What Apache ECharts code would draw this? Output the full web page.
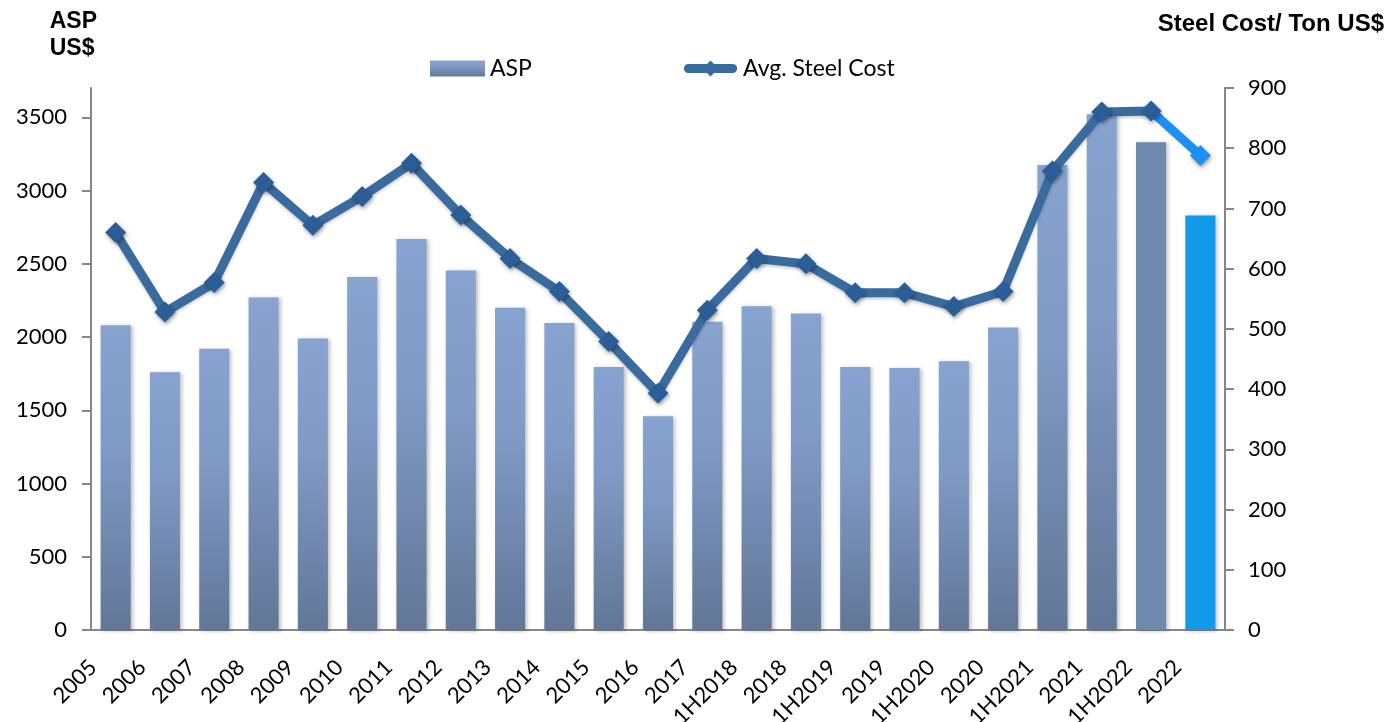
<!DOCTYPE html>
<html>
<head>
<meta charset="utf-8">
<script src="https://cdn.jsdelivr.net/npm/echarts@6/dist/echarts.min.js"></script>
<style>
  html, body { margin: 0; padding: 0; background: #fff; }
  #chart { width: 1386px; height: 722px; }
</style>
</head>
<body>
<div id="chart"></div>
<script>
let categories = ['2005', '2006', '2007', '2008', '2009', '2010', '2011', '2012', '2013', '2014', '2015', '2016',
  '2017', '1H2018', '2018', '1H2019', '2019', '1H2020', '2020', '1H2021', '2021', '1H2022', '2022']
let aspValues = [2080, 1760, 1920, 2270, 1990, 2410, 2670, 2455, 2200, 2095, 1795, 1460,
  2105, 2210, 2160, 1795, 1788, 1835, 2065, 3175, 3520, 3330, 2830]
let steelValues = [660, 528, 577, 743, 672, 720, 775, 689, 617, 562, 479, 393,
  531, 617, 608, 560, 560, 537, 562, 762, 860, 862, 788]
let leftTicks = [0, 500, 1000, 1500, 2000, 2500, 3000, 3500]
let rightTicks = [0, 100, 200, 300, 400, 500, 600, 700, 800, 900]

let font = 'Lato'
let axisGray = '#868686'
let lineColor = '#3a6b9f'
let markerColor = '#2b5e97'
let lastColor = '#1e90f5'
let last = categories.length - 1

let barGradient = new echarts.graphic.LinearGradient(0, 0, 0, 1, [
  { offset: 0, color: '#87a3cf' },
  { offset: 0.4, color: '#7f9ac5' },
  { offset: 1, color: '#627797' }
])

// 最后两根柱子颜色不同
let barData = aspValues.map(function (v, i) {
  if (i === last - 1) {
    return { value: v, itemStyle: { color: '#6f88ae' } }
  }
  if (i === last) {
    return { value: v, itemStyle: { color: '#129ae8' } }
  }
  return v
})

// 深色折线到 1H2022，最后一段用亮蓝色
let mainLine = steelValues.map(function (v, i) { return i < last ? v : '-' })
let lastLine = steelValues.map(function (v, i) {
  if (i === last - 1) return { value: v, symbol: 'none' }
  return i === last ? v : '-'
})

let lineIcon = 'path://M5,4 L55,4 A5,5 0 0 1 55,14 L5,14 A5,5 0 0 1 5,4 Z M21,9 L30,0 L39,9 L30,18 Z'

let axisLabelStyle = {
  fontFamily: font,
  fontSize: 22,
  color: '#000',
  formatter: function (v) { return String(v) }
}

let markerStyle = {
  shadowColor: 'rgba(0,0,0,0.4)',
  shadowBlur: 4,
  shadowOffsetX: 1,
  shadowOffsetY: 2
}

let chart = echarts.init(document.getElementById('chart'))
let options = {
  animation: false,
  grid: { left: 91, right: 161, top: 88, bottom: 92, outerBoundsMode: 'none' },
  legend: {
    left: 425,
    top: 52,
    itemWidth: 55,
    itemHeight: 16,
    itemGap: 152,
    textStyle: { fontFamily: font, fontSize: 23, color: '#000' },
    data: [
      { name: 'ASP', icon: 'rect', itemStyle: { color: barGradient } },
      { name: 'Avg. Steel Cost', icon: lineIcon, itemStyle: { color: lineColor } }
    ]
  },
  graphic: [
    {
      type: 'text', right: 1386 - 97, top: 8,
      style: { text: 'ASP\nUS$', font: 'bold 23px "Liberation Sans"', fill: '#000', align: 'right', lineHeight: 27 }
    },
    {
      type: 'text', right: 2, top: 12,
      style: { text: 'Steel Cost/ Ton US$', font: 'bold 24px "Liberation Sans"', fill: '#000' }
    }
  ],
  xAxis: {
    type: 'category',
    data: categories,
    axisLine: { lineStyle: { color: axisGray, width: 2 } },
    axisTick: { length: 7, lineStyle: { color: axisGray, width: 2 } },
    axisLabel: {
      rotate: 45,
      margin: 11,
      fontFamily: font,
      fontSize: 22,
      color: '#000',
      interval: 0,
      padding: [0, 32, 0, 0]
    }
  },
  yAxis: [
    {
      type: 'value',
      min: 0,
      max: 3700,
      interval: 500,
      splitLine: { show: false },
      axisLine: { show: true, lineStyle: { color: axisGray, width: 2 } },
      axisTick: { show: true, length: 9, customValues: leftTicks, lineStyle: { color: axisGray, width: 2 } },
      axisLabel: Object.assign({ customValues: leftTicks, margin: 24 }, axisLabelStyle)
    },
    {
      type: 'value',
      min: 0,
      max: 900,
      interval: 100,
      splitLine: { show: false },
      axisLine: { show: true, lineStyle: { color: axisGray, width: 2 } },
      axisTick: { show: true, length: 9, customValues: rightTicks, lineStyle: { color: axisGray, width: 2 } },
      axisLabel: Object.assign({ customValues: rightTicks, margin: 23 }, axisLabelStyle)
    }
  ],
  series: [
    {
      name: 'ASP',
      type: 'bar',
      yAxisIndex: 0,
      barWidth: '61%',
      data: barData,
      itemStyle: {
        color: barGradient,
        shadowColor: 'rgba(0,0,0,0.25)',
        shadowBlur: 4,
        shadowOffsetX: 2,
        shadowOffsetY: 1
      }
    },
    {
      name: 'Avg. Steel Cost 2022',
      type: 'line',
      yAxisIndex: 1,
      data: lastLine,
      symbol: 'diamond',
      symbolSize: 21,
      lineStyle: { width: 9, color: lastColor },
      itemStyle: Object.assign({ color: lastColor }, markerStyle)
    },
    {
      name: 'Avg. Steel Cost',
      type: 'line',
      yAxisIndex: 1,
      data: mainLine,
      symbol: 'diamond',
      symbolSize: 21,
      lineStyle: {
        width: 9,
        color: lineColor,
        shadowColor: 'rgba(0,0,0,0.2)',
        shadowBlur: 3,
        shadowOffsetY: 2
      },
      itemStyle: Object.assign({ color: markerColor }, markerStyle)
    }
  ]
}
chart.setOption(options)
</script>
</body>
</html>
